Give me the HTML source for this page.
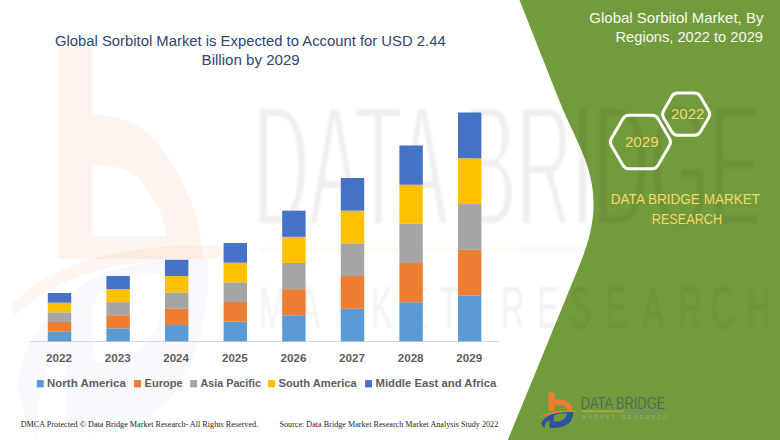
<!DOCTYPE html>
<html><head><meta charset="utf-8"><style>
html,body{margin:0;padding:0;background:#fff;}
body{width:780px;height:440px;overflow:hidden;}
svg{display:block;}
</style></head><body>
<svg width="780" height="440" viewBox="0 0 780 440">
<defs><g id="lgb"><rect x="548.5" y="392.5" width="6.1" height="18.4" fill="#F07A30"/>
<path d="M554.4,399.5 L560,399.5 C566,399.8 572.5,403.5 572.7,410.9 L567.9,410.9 C567.5,407 564,405.2 560,405.2 L554.4,405.2 Z" fill="#F07A30"/>
<path d="M540.6,416.8 C548,412.6 560,411.2 576,411.4" fill="none" stroke="#F07A30" stroke-width="1.2"/></g><g id="lgd"><path fill-rule="evenodd" d="M541.3,423.3 C543,418.5 549,415 556,413.3 C562,412.2 568,412 573.2,412 C573.6,416 571.5,421.5 568,424 C565,426.3 560,427.8 554,428 L549.5,427.8 L549.6,421 C548,420.8 546.5,421.5 545.5,423.5 C544.8,425 544.5,427 544.6,428.4 C543,427 541.8,425.5 541.3,423.3 Z M554,421.3 L553.8,416.5 C555.5,414.5 558,413.8 561,413.6 L567.5,413.4 C566.5,416.5 564,419.5 560.5,421 C558.5,421.6 556,421.6 554,421.3 Z" fill="#2F52A0"/></g><g id="lgt"><text x="580.67" y="409.00" font-family='"Liberation Sans", sans-serif' font-size="15.94" font-weight="400" fill="currentColor" textLength="84.55" lengthAdjust="spacingAndGlyphs" style="stroke:var(--ts,none);stroke-width:0.45px">DATA BRIDGE</text>
<rect x="581.7" y="410.7" width="42.7" height="1" fill="#E0A23A"/>
<rect x="624.4" y="410.7" width="43" height="1" fill="#6F86A0"/></g><g id="lgm"><text x="581.6" y="418.9" font-family='"Liberation Sans", sans-serif' font-size="5.4" style="fill:var(--mr,#7E8C78)">M</text>
<text x="588.2" y="418.9" font-family='"Liberation Sans", sans-serif' font-size="5.4" style="fill:var(--mr,#7E8C78)">A</text>
<text x="594.3" y="418.9" font-family='"Liberation Sans", sans-serif' font-size="5.4" style="fill:var(--mr,#7E8C78)">R</text>
<text x="600.3" y="418.9" font-family='"Liberation Sans", sans-serif' font-size="5.4" style="fill:var(--mr,#7E8C78)">K</text>
<text x="606.3" y="418.9" font-family='"Liberation Sans", sans-serif' font-size="5.4" style="fill:var(--mr,#7E8C78)">E</text>
<text x="611.7" y="418.9" font-family='"Liberation Sans", sans-serif' font-size="5.4" style="fill:var(--mr,#7E8C78)">T</text>
<text x="622" y="418.9" font-family='"Liberation Sans", sans-serif' font-size="5.4" style="fill:var(--mr,#7E8C78)">R</text>
<text x="628" y="418.9" font-family='"Liberation Sans", sans-serif' font-size="5.4" style="fill:var(--mr,#7E8C78)">E</text>
<text x="633.4" y="418.9" font-family='"Liberation Sans", sans-serif' font-size="5.4" style="fill:var(--mr,#7E8C78)">S</text>
<text x="639.4" y="418.9" font-family='"Liberation Sans", sans-serif' font-size="5.4" style="fill:var(--mr,#7E8C78)">E</text>
<text x="645.5" y="418.9" font-family='"Liberation Sans", sans-serif' font-size="5.4" style="fill:var(--mr,#7E8C78)">A</text>
<text x="651.5" y="418.9" font-family='"Liberation Sans", sans-serif' font-size="5.4" style="fill:var(--mr,#7E8C78)">R</text>
<text x="656.9" y="418.9" font-family='"Liberation Sans", sans-serif' font-size="5.4" style="fill:var(--mr,#7E8C78)">C</text>
<text x="662.9" y="418.9" font-family='"Liberation Sans", sans-serif' font-size="5.4" style="fill:var(--mr,#7E8C78)">H</text></g><g id="lg"><use href="#lgb"/><use href="#lgd"/><use href="#lgt"/><use href="#lgm"/></g><filter id="er" x="0" y="0" width="780" height="440" filterUnits="userSpaceOnUse"><feMorphology operator="erode" radius="0 2.5"/><feGaussianBlur stdDeviation="1.2"/></filter><filter id="bl" x="0" y="0" width="780" height="440" filterUnits="userSpaceOnUse"><feGaussianBlur stdDeviation="1.2"/></filter></defs>
<path d="M519.5,0 L559,100 C579.8,152.7 611.8,186.3 580.5,262.7 L507.8,440 L780,440 L780,0 Z" fill="#729B3B"/>
<path fill-rule="evenodd" d="M58,47 L92.5,47 L92.5,115 C120,115 135,122 150,135 C170,155 190,190 200,230 L202.5,259 L58,259 Z M92.5,165 C115,165 132,170 140,180 L160,210 L167,236 L92.5,236 Z" fill="#F07A30" opacity="0.08"/>
<path d="M540.6,416.8 C548,412.6 560,411.2 576,411.4" transform="matrix(6,0,0,10.9,-3230.7,-4232.2)" fill="none" stroke="#F07A30" stroke-width="1.2" opacity="0.07"/>
<use href="#lgd" transform="matrix(6,0,0,10.9,-3230.7,-4232.2)" opacity="0.035"/>
<g filter="url(#er)"><use href="#lgt" transform="matrix(6,0,0,10.9,-3230.7,-4232.2)" opacity="0.06" color="#202020"/></g>
<g filter="url(#bl)"><use href="#lgm" transform="translate(0,-6) matrix(6,0,0,10.9,-3230.7,-4232.2)" opacity="0.05" style="--mr:#202020"/></g>
<rect x="30" y="341" width="469" height="1" fill="#D9D9D9"/>
<rect x="47.80" y="331.72" width="23.4" height="9.68" fill="#5B9BD5"/>
<rect x="47.80" y="322.04" width="23.4" height="9.68" fill="#ED7D31"/>
<rect x="47.80" y="312.36" width="23.4" height="9.68" fill="#A5A5A5"/>
<rect x="47.80" y="302.68" width="23.4" height="9.68" fill="#FFC000"/>
<rect x="47.80" y="293.00" width="23.4" height="9.68" fill="#4472C4"/>
<text x="46.14" y="362.10" font-family='"Liberation Sans", sans-serif' font-size="11.50" font-weight="700" fill="#5E5E5E" textLength="25.97" lengthAdjust="spacingAndGlyphs">2022</text>
<rect x="106.40" y="328.32" width="23.4" height="13.08" fill="#5B9BD5"/>
<rect x="106.40" y="315.24" width="23.4" height="13.08" fill="#ED7D31"/>
<rect x="106.40" y="302.16" width="23.4" height="13.08" fill="#A5A5A5"/>
<rect x="106.40" y="289.08" width="23.4" height="13.08" fill="#FFC000"/>
<rect x="106.40" y="276.00" width="23.4" height="13.08" fill="#4472C4"/>
<text x="104.74" y="362.10" font-family='"Liberation Sans", sans-serif' font-size="11.50" font-weight="700" fill="#5E5E5E" textLength="25.91" lengthAdjust="spacingAndGlyphs">2023</text>
<rect x="165.00" y="325.08" width="23.4" height="16.32" fill="#5B9BD5"/>
<rect x="165.00" y="308.76" width="23.4" height="16.32" fill="#ED7D31"/>
<rect x="165.00" y="292.44" width="23.4" height="16.32" fill="#A5A5A5"/>
<rect x="165.00" y="276.12" width="23.4" height="16.32" fill="#FFC000"/>
<rect x="165.00" y="259.80" width="23.4" height="16.32" fill="#4472C4"/>
<text x="163.35" y="362.10" font-family='"Liberation Sans", sans-serif' font-size="11.50" font-weight="700" fill="#5E5E5E" textLength="25.56" lengthAdjust="spacingAndGlyphs">2024</text>
<rect x="223.60" y="321.72" width="23.4" height="19.68" fill="#5B9BD5"/>
<rect x="223.60" y="302.04" width="23.4" height="19.68" fill="#ED7D31"/>
<rect x="223.60" y="282.36" width="23.4" height="19.68" fill="#A5A5A5"/>
<rect x="223.60" y="262.68" width="23.4" height="19.68" fill="#FFC000"/>
<rect x="223.60" y="243.00" width="23.4" height="19.68" fill="#4472C4"/>
<text x="221.94" y="362.10" font-family='"Liberation Sans", sans-serif' font-size="11.50" font-weight="700" fill="#5E5E5E" textLength="25.79" lengthAdjust="spacingAndGlyphs">2025</text>
<rect x="282.20" y="315.26" width="23.4" height="26.14" fill="#5B9BD5"/>
<rect x="282.20" y="289.12" width="23.4" height="26.14" fill="#ED7D31"/>
<rect x="282.20" y="262.98" width="23.4" height="26.14" fill="#A5A5A5"/>
<rect x="282.20" y="236.84" width="23.4" height="26.14" fill="#FFC000"/>
<rect x="282.20" y="210.70" width="23.4" height="26.14" fill="#4472C4"/>
<text x="280.54" y="362.10" font-family='"Liberation Sans", sans-serif' font-size="11.50" font-weight="700" fill="#5E5E5E" textLength="25.91" lengthAdjust="spacingAndGlyphs">2026</text>
<rect x="340.80" y="308.72" width="23.4" height="32.68" fill="#5B9BD5"/>
<rect x="340.80" y="276.04" width="23.4" height="32.68" fill="#ED7D31"/>
<rect x="340.80" y="243.36" width="23.4" height="32.68" fill="#A5A5A5"/>
<rect x="340.80" y="210.68" width="23.4" height="32.68" fill="#FFC000"/>
<rect x="340.80" y="178.00" width="23.4" height="32.68" fill="#4472C4"/>
<text x="339.14" y="362.10" font-family='"Liberation Sans", sans-serif' font-size="11.50" font-weight="700" fill="#5E5E5E" textLength="25.97" lengthAdjust="spacingAndGlyphs">2027</text>
<rect x="399.40" y="302.22" width="23.4" height="39.18" fill="#5B9BD5"/>
<rect x="399.40" y="263.04" width="23.4" height="39.18" fill="#ED7D31"/>
<rect x="399.40" y="223.86" width="23.4" height="39.18" fill="#A5A5A5"/>
<rect x="399.40" y="184.68" width="23.4" height="39.18" fill="#FFC000"/>
<rect x="399.40" y="145.50" width="23.4" height="39.18" fill="#4472C4"/>
<text x="397.74" y="362.10" font-family='"Liberation Sans", sans-serif' font-size="11.50" font-weight="700" fill="#5E5E5E" textLength="25.85" lengthAdjust="spacingAndGlyphs">2028</text>
<rect x="458.00" y="295.62" width="23.4" height="45.78" fill="#5B9BD5"/>
<rect x="458.00" y="249.84" width="23.4" height="45.78" fill="#ED7D31"/>
<rect x="458.00" y="204.06" width="23.4" height="45.78" fill="#A5A5A5"/>
<rect x="458.00" y="158.28" width="23.4" height="45.78" fill="#FFC000"/>
<rect x="458.00" y="112.50" width="23.4" height="45.78" fill="#4472C4"/>
<text x="456.34" y="362.10" font-family='"Liberation Sans", sans-serif' font-size="11.50" font-weight="700" fill="#5E5E5E" textLength="25.91" lengthAdjust="spacingAndGlyphs">2029</text>
<rect x="36.8" y="380.1" width="7" height="7.3" fill="#5B9BD5"/>
<rect x="134" y="380.1" width="7" height="7.3" fill="#ED7D31"/>
<rect x="190.1" y="380.1" width="7" height="7.3" fill="#A5A5A5"/>
<rect x="268.1" y="380.1" width="7" height="7.3" fill="#FFC000"/>
<rect x="365.1" y="380.1" width="7" height="7.3" fill="#4472C4"/>
<text x="47.05" y="387.00" font-family='"Liberation Sans", sans-serif' font-size="11.30" font-weight="700" fill="#5E5E5E" textLength="78.77" lengthAdjust="spacingAndGlyphs">North America</text>
<text x="144.58" y="387.00" font-family='"Liberation Sans", sans-serif' font-size="11.30" font-weight="700" fill="#5E5E5E" textLength="38.00" lengthAdjust="spacingAndGlyphs">Europe</text>
<text x="200.53" y="387.00" font-family='"Liberation Sans", sans-serif' font-size="11.30" font-weight="700" fill="#5E5E5E" textLength="60.38" lengthAdjust="spacingAndGlyphs">Asia Pacific</text>
<text x="278.47" y="387.00" font-family='"Liberation Sans", sans-serif' font-size="11.30" font-weight="700" fill="#5E5E5E" textLength="78.22" lengthAdjust="spacingAndGlyphs">South America</text>
<text x="375.47" y="387.00" font-family='"Liberation Sans", sans-serif' font-size="11.30" font-weight="700" fill="#5E5E5E" textLength="120.85" lengthAdjust="spacingAndGlyphs">Middle East and Africa</text>
<text x="54.96" y="45.60" font-family='"Liberation Sans", sans-serif' font-size="14.93" font-weight="400" fill="#30456F" textLength="390.71" lengthAdjust="spacingAndGlyphs">Global Sorbitol Market is Expected to Account for USD 2.44</text>
<text x="201.59" y="65.20" font-family='"Liberation Sans", sans-serif' font-size="14.35" font-weight="400" fill="#30456F" textLength="98.18" lengthAdjust="spacingAndGlyphs">Billion by 2029</text>
<text x="589.35" y="22.50" font-family='"Liberation Sans", sans-serif' font-size="14.78" font-weight="400" fill="#F6F8F0" textLength="174.06" lengthAdjust="spacingAndGlyphs">Global Sorbitol Market, By</text>
<text x="615.53" y="41.80" font-family='"Liberation Sans", sans-serif' font-size="14.20" font-weight="400" fill="#F6F8F0" textLength="147.41" lengthAdjust="spacingAndGlyphs">Regions, 2022 to 2029</text>
<path d="M663.51,117.66 L663.51,117.66 Q661.50,114.20 663.51,110.74 L671.79,96.56 Q673.80,93.10 677.80,93.10 L694.40,93.10 Q698.40,93.10 700.41,96.56 L708.69,110.74 Q710.70,114.20 708.69,117.66 L700.41,131.84 Q698.40,135.30 694.40,135.30 L677.80,135.30 Q673.80,135.30 671.79,131.84 Z" fill="none" stroke="#FFFFFF" stroke-width="3.0"/>
<path d="M611.41,145.51 L611.41,145.51 Q609.40,142.05 611.41,138.59 L622.91,118.81 Q624.93,115.35 628.93,115.35 L651.98,115.35 Q655.98,115.35 657.99,118.81 L669.49,138.59 Q671.50,142.05 669.49,145.51 L657.99,165.29 Q655.98,168.75 651.98,168.75 L628.93,168.75 Q624.93,168.75 622.91,165.29 Z" fill="none" stroke="#FFFFFF" stroke-width="3.0"/>
<text x="670.95" y="119.10" font-family='"Liberation Sans", sans-serif' font-size="14.57" font-weight="400" fill="#F5D86C" textLength="33.40" lengthAdjust="spacingAndGlyphs">2022</text>
<text x="624.94" y="147.10" font-family='"Liberation Sans", sans-serif' font-size="14.57" font-weight="400" fill="#F5D86C" textLength="33.63" lengthAdjust="spacingAndGlyphs">2029</text>
<text x="610.82" y="203.90" font-family='"Liberation Sans", sans-serif' font-size="14.64" font-weight="400" fill="#F5D86C" textLength="149.26" lengthAdjust="spacingAndGlyphs">DATA BRIDGE MARKET</text>
<text x="651.79" y="223.50" font-family='"Liberation Sans", sans-serif' font-size="14.93" font-weight="400" fill="#F5D86C" textLength="70.35" lengthAdjust="spacingAndGlyphs">RESEARCH</text>
<text x="20.65" y="426.70" font-family='"Liberation Serif", serif' font-size="8.85" font-weight="400" fill="#262626" textLength="237.59" lengthAdjust="spacingAndGlyphs">DMCA Protected © Data Bridge Market Research- All Rights Reserved.</text>
<text x="279.47" y="426.70" font-family='"Liberation Serif", serif' font-size="8.70" font-weight="400" fill="#262626" textLength="218.76" lengthAdjust="spacingAndGlyphs">Source: Data Bridge Market Research Market Analysis Study 2022</text>
<use href="#lg" color="#4A5562" style="--ts:#729B3B;--mr:#9CA690"/>
</svg>
</body></html>
